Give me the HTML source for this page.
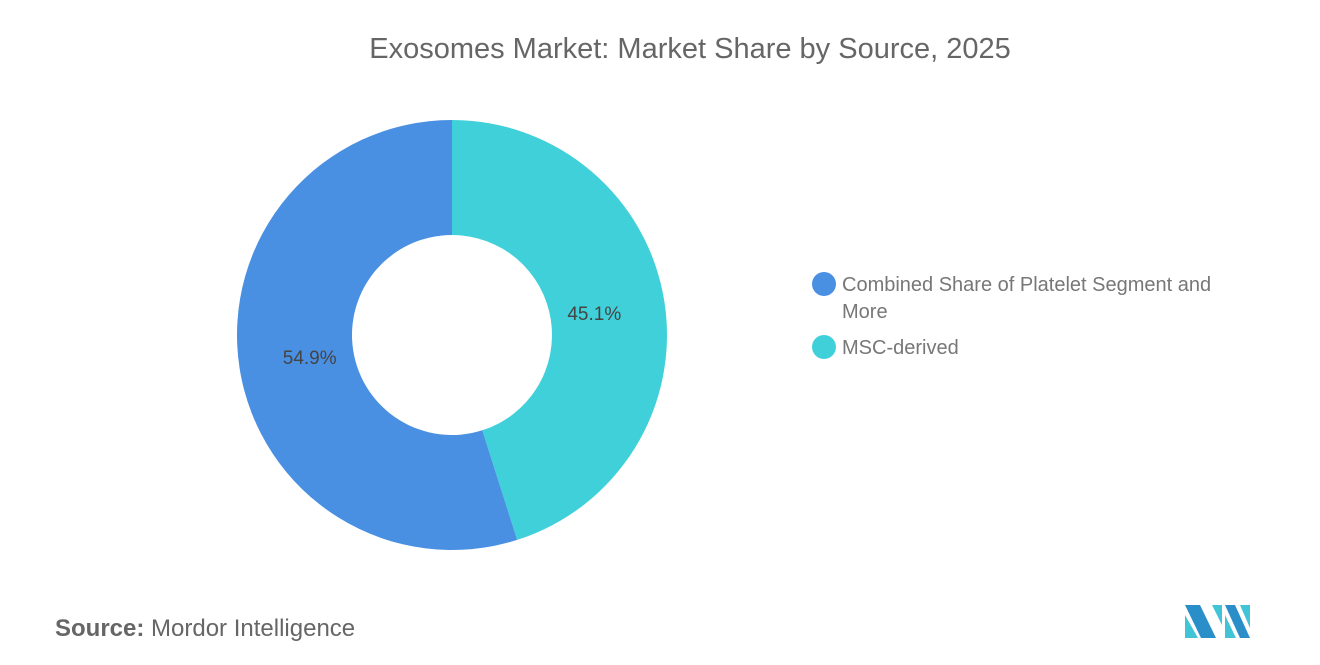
<!DOCTYPE html>
<html><head><meta charset="utf-8">
<style>
body{margin:0;width:1320px;height:665px;background:#fff;overflow:hidden;font-family:"Liberation Sans",sans-serif;}
svg{position:absolute;left:0;top:0}
</style></head>
<body>
<svg id="c" width="1320" height="665">
<text x="690" y="58" text-anchor="middle" font-size="29" fill="#666">Exosomes Market: Market Share by Source, 2025</text>
<g id="slices"></g>
<g>
<g>
<circle cx="824" cy="284" r="12" fill="#4a90e2"/>
<text x="842" y="291" font-size="20" fill="#777">Combined Share of Platelet Segment and</text>
<text x="842" y="318" font-size="20" fill="#777">More</text></g>
<g>
<circle cx="824" cy="347" r="12" fill="#40d0da"/>
<text x="842" y="354" font-size="20" fill="#777">MSC-derived</text></g>
</g>
<text x="55" y="636" font-size="24" fill="#666"><tspan font-weight="bold">Source:</tspan>  Mordor Intelligence</text>
<g>
<polygon points="1185,605 1200,605 1216,638 1201,638" fill="#2a8fc9"/>
<polygon points="1185,615 1198,638 1185,638" fill="#40c4d6"/>
<polygon points="1212,605 1222,605 1222,625" fill="#40c4d6"/>
<polygon points="1225,605 1235,605 1250,638 1240,638" fill="#2a8fc9"/>
<polygon points="1225,615 1236,638 1225,638" fill="#40c4d6"/>
<polygon points="1240,605 1250,605 1250,628" fill="#40c4d6"/>
</g>
</svg>
<script>
const categories=["MSC-derived","Combined Share of Platelet Segment and More"];
const values=[45.1,54.9];
const colors=["#40d0da","#4a90e2"];
const labels=["45.1%","54.9%"];
const cx=452,cy=335,R=215,r=100;
const g=document.getElementById('slices');
const tot=values.reduce((a,b)=>a+b,0);
let a0=0;
function pt(a,rad){return [cx+rad*Math.sin(a),cy-rad*Math.cos(a)];}
values.forEach((v,i)=>{
 const a1=a0+v/tot*2*Math.PI, large=(a1-a0)>Math.PI?1:0;
 const [x0,y0]=pt(a0,R),[x1,y1]=pt(a1,R),[x2,y2]=pt(a1,r),[x3,y3]=pt(a0,r);
 const p=document.createElementNS('http://www.w3.org/2000/svg','path');
 p.setAttribute('d',`M${x0},${y0}A${R},${R} 0 ${large} 1 ${x1},${y1}L${x2},${y2}A${r},${r} 0 ${large} 0 ${x3},${y3}Z`);
 p.setAttribute('fill',colors[i]);
 
 
 g.appendChild(p);
 const am=(a0+a1)/2,[lx,ly]=pt(am,144);
 const t=document.createElementNS('http://www.w3.org/2000/svg','text');
 t.setAttribute('x',lx);t.setAttribute('y',ly+7);t.setAttribute('text-anchor','middle');
 t.setAttribute('font-size','19');t.setAttribute('fill','#444');
 t.textContent=labels[i];
 
 
 g.appendChild(t);
 a0=a1;
});
</script>
</body></html>
